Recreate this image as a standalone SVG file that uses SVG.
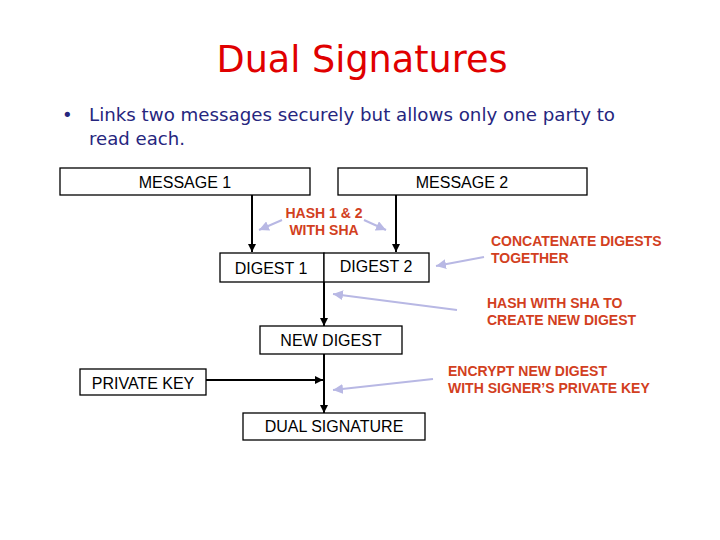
<svg xmlns="http://www.w3.org/2000/svg" width="720" height="540" viewBox="0 0 720 540">
<style>
.box{fill:#fff;stroke:#000;stroke-width:1.3}
.lbl{font-family:"Liberation Sans",Arial,sans-serif;font-size:16px;fill:#000;text-anchor:middle}
.note{font-family:"Liberation Sans",Arial,sans-serif;font-size:14px;font-weight:bold;fill:#d2401e}
.conn{stroke:#000;stroke-width:2;fill:none}
.hint{stroke:#b8b8e4;stroke-width:2;fill:none}
.title{font-family:"DejaVu Sans","Liberation Sans",sans-serif;font-size:38px;fill:#e00000;text-anchor:middle}
.body{font-family:"DejaVu Sans","Liberation Sans",sans-serif;font-size:18px;fill:#26267e}
</style>
<defs>
<marker id="ah" viewBox="0 0 10 10" refX="10" refY="5" markerWidth="4" markerHeight="4" orient="auto" markerUnits="strokeWidth">
<path d="M0,0 L10,5 L0,10 z" fill="#000"/>
</marker>
<marker id="lh" viewBox="0 0 10 10" refX="10" refY="5" markerWidth="5" markerHeight="5" orient="auto" markerUnits="strokeWidth">
<path d="M0,0 L10,5 L0,10 z" fill="#b8b8e4"/>
</marker>
</defs>
<rect width="720" height="540" fill="#fff"/>
<text class="title" x="362" y="72" textLength="291" lengthAdjust="spacingAndGlyphs">Dual Signatures</text>
<text class="body" x="62" y="121" font-size="14">•</text>
<text class="body" x="89" y="121" textLength="526" lengthAdjust="spacingAndGlyphs">Links two messages securely but allows only one party to</text>
<text class="body" x="89" y="145" textLength="96" lengthAdjust="spacingAndGlyphs">read each.</text>

<g id="connectors">
<line class="conn" x1="252" y1="195" x2="252" y2="252" marker-end="url(#ah)"/>
<line class="conn" x1="396" y1="195" x2="396" y2="252" marker-end="url(#ah)"/>
<line class="conn" x1="324" y1="282" x2="324" y2="326" marker-end="url(#ah)"/>
<line class="conn" x1="324" y1="354" x2="324" y2="413" marker-end="url(#ah)"/>
<line class="conn" x1="206" y1="380" x2="323" y2="380" marker-end="url(#ah)"/>
<line class="hint" x1="282" y1="220" x2="259" y2="230" marker-end="url(#lh)"/>
<line class="hint" x1="364" y1="220" x2="386" y2="230" marker-end="url(#lh)"/>
<line class="hint" x1="484" y1="257" x2="436" y2="266" marker-end="url(#lh)"/>
<line class="hint" x1="457" y1="310" x2="333" y2="294" marker-end="url(#lh)"/>
<line class="hint" x1="433" y1="379" x2="333" y2="390" marker-end="url(#lh)"/>
</g>

<g id="message1"><rect class="box" x="60" y="168" width="250" height="27"/><text class="lbl" x="185" y="188">MESSAGE 1</text></g>
<g id="message2"><rect class="box" x="338" y="168" width="249" height="27"/><text class="lbl" x="462" y="188">MESSAGE 2</text></g>
<g id="digest1"><rect class="box" x="220" y="253" width="104" height="29"/><text class="lbl" x="271" y="274">DIGEST 1</text></g>
<g id="digest2"><rect class="box" x="324" y="253" width="105" height="29"/><text class="lbl" x="376" y="272">DIGEST 2</text></g>
<g id="newdigest"><rect class="box" x="260" y="326" width="142" height="28"/><text class="lbl" x="331" y="346">NEW DIGEST</text></g>
<g id="privatekey"><rect class="box" x="80" y="369" width="126" height="26"/><text class="lbl" x="143" y="389">PRIVATE KEY</text></g>
<g id="dualsig"><rect class="box" x="243" y="413" width="182" height="27"/><text class="lbl" x="334" y="432">DUAL SIGNATURE</text></g>

<g id="notes">
<text class="note" x="324" y="218" text-anchor="middle">HASH 1 &amp; 2</text>
<text class="note" x="324" y="235" text-anchor="middle">WITH SHA</text>
<text class="note" x="491" y="246">CONCATENATE DIGESTS</text>
<text class="note" x="491" y="263">TOGETHER</text>
<text class="note" x="487" y="308">HASH WITH SHA TO</text>
<text class="note" x="487" y="325">CREATE NEW DIGEST</text>
<text class="note" x="448" y="376">ENCRYPT NEW DIGEST</text>
<text class="note" x="448" y="393">WITH SIGNER’S PRIVATE KEY</text>
</g>
</svg>
